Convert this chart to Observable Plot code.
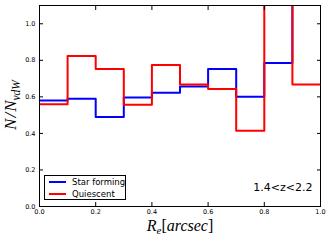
<!DOCTYPE html>
<html><head><meta charset="utf-8">
<script src="https://cdn.jsdelivr.net/npm/d3@7"></script>
<script src="https://cdn.jsdelivr.net/npm/@observablehq/plot@0.6"></script>
<style>
body{margin:0;background:#fff}
#c{position:relative;width:332px;height:242px}
#legend{position:absolute;left:44px;top:175px;width:80px;height:23px;border:1px solid #000;background:#fff;font-family:"DejaVu Sans";font-size:8.5px;color:#000}
.row{position:absolute;left:0;height:12px;width:80px}
.sw{position:absolute;left:4px;width:17px;height:2px;top:5px}
.lb{position:absolute;left:27px;top:0;line-height:12px;white-space:nowrap}
</style>
</head><body><div id="c"></div>
<script>
const binEdges = [0.0, 0.1, 0.2, 0.3, 0.4, 0.5, 0.6, 0.7, 0.8, 0.9, 1.0];
const starForming = [0.58, 0.59, 0.49, 0.597, 0.623, 0.657, 0.752, 0.60, 0.785, 1.30];
const quiescent = [0.56, 0.824, 0.752, 0.557, 0.775, 0.667, 0.643, 0.414, 1.30, 0.667];
const seriesNames = ["Star forming", "Quiescent"];
const seriesColors = ["#0000ff", "#ff0000"];
const xTicks = [0.0, 0.2, 0.4, 0.6, 0.8, 1.0];
const yTicks = [0.0, 0.2, 0.4, 0.6, 0.8, 1.0];
const redshiftLabel = "1.4<z<2.2";

const seriesValues = [starForming, quiescent];
const steps = [];
seriesValues.forEach((vals, s) => {
  vals.forEach((v, i) => {
    steps.push({series: seriesNames[s], x: binEdges[i], y: v});
    steps.push({series: seriesNames[s], x: binEdges[i + 1], y: v});
  });
});

const chart = Plot.plot({
  width: 332, height: 242,
  marginLeft: 39, marginRight: 12, marginTop: 5, marginBottom: 36,
  x: {domain: [0, 1]},
  y: {domain: [0, 1.1]},
  color: {domain: seriesNames, range: seriesColors},
  style: {fontFamily: "DejaVu Sans", fontSize: "6.5px", color: "#000", background: "#fff"},
  marks: [
    Plot.line(steps, {x: "x", y: "y", z: "series", stroke: "series", strokeWidth: 2, clip: true}),
    Plot.frame({stroke: "#000", strokeWidth: 1}),
    Plot.axisX(xTicks, {anchor: "bottom", tickSize: -4, tickPadding: 7, tickFormat: ".1f", label: null}),
    Plot.axisX(xTicks, {anchor: "top", tickSize: -4, tickFormat: () => "", label: null}),
    Plot.axisY(yTicks, {anchor: "left", tickSize: -4, tickPadding: 8, tickFormat: ".1f", label: null}),
    Plot.axisY(yTicks, {anchor: "right", tickSize: -4, tickFormat: () => "", label: null}),
    Plot.text([redshiftLabel], {text: d => d, frameAnchor: "bottom-right", dx: -8, dy: -16, fontSize: 11, textAnchor: "end", fill: "#000"})
  ]
});
document.getElementById("c").appendChild(chart);

const svg = d3.select(chart);
const yl = svg.append("text")
  .attr("transform", "translate(16,105) rotate(-90)")
  .attr("text-anchor", "middle")
  .attr("font-family", "Liberation Serif").attr("font-style", "italic").attr("font-size", 17).attr("fill", "#000");
yl.append("tspan").text("N");
yl.append("tspan").attr("dx", 1).text("/");
yl.append("tspan").attr("dx", 1).text("N");
yl.append("tspan").attr("font-size", 11.5).attr("dy", 3.5).text("vdW");

const xl = svg.append("text")
  .attr("x", 180).attr("y", 231)
  .attr("text-anchor", "middle")
  .attr("font-family", "Liberation Serif").attr("font-style", "italic").attr("font-size", 16).attr("fill", "#000");
xl.append("tspan").text("R");
xl.append("tspan").attr("font-size", 11).attr("dy", 3).text("e");
xl.append("tspan").attr("dy", -3).attr("font-style", "normal").text("[");
xl.append("tspan").text("arcsec");
xl.append("tspan").attr("font-style", "normal").text("]");

const legend = d3.select("#c").append("div").attr("id", "legend");
seriesNames.forEach((name, i) => {
  const row = legend.append("div").attr("class", "row").style("top", (i * 12) + "px");
  row.append("div").attr("class", "sw").style("background", seriesColors[i]);
  row.append("div").attr("class", "lb").text(name);
});
</script>
</body></html>
